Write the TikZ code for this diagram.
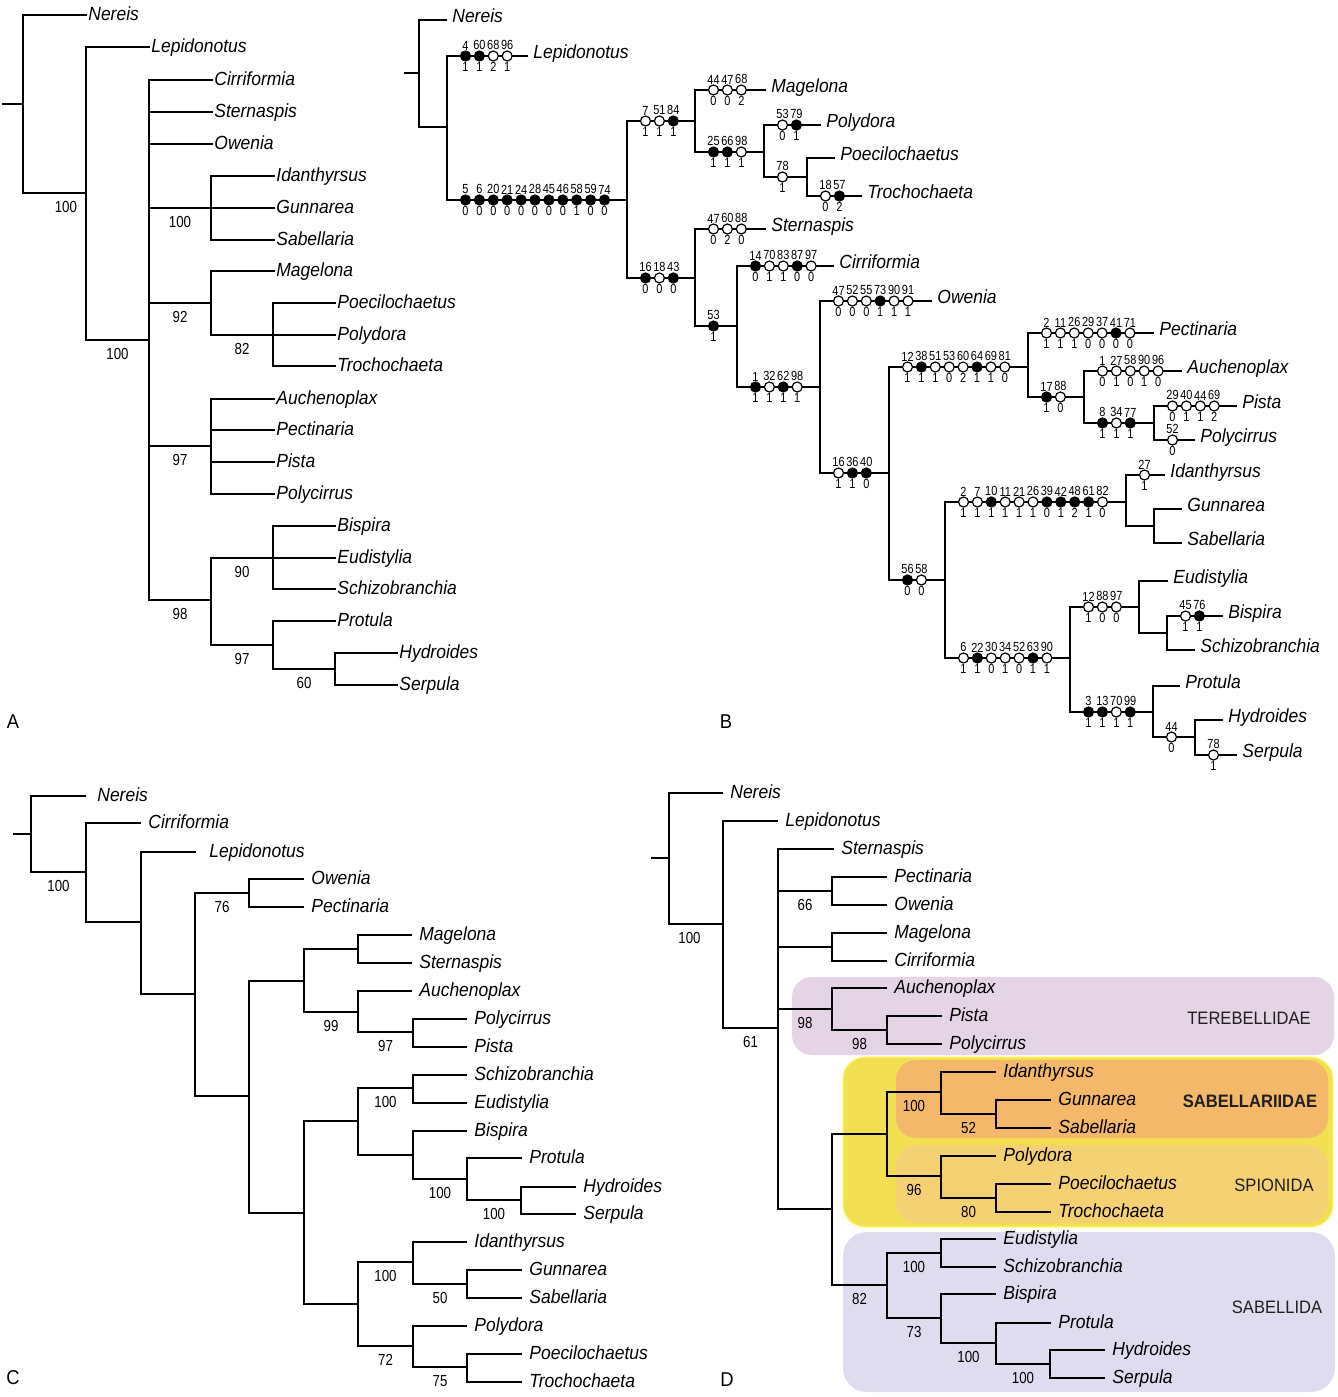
\documentclass[tikz,border=0pt]{standalone}
\usepackage{fontspec}
\setmainfont[FakeStretch=0.92]{Liberation Sans}
\newfontfamily\numfont[FakeStretch=0.83]{Liberation Sans}

\definecolor{terebel}{RGB}{229,211,230}
\definecolor{spiyel}{RGB}{242,223,82}
\definecolor{sabaor}{RGB}{243,184,106}
\definecolor{spiono}{RGB}{244,209,114}
\definecolor{sabida}{RGB}{222,220,238}

\tikzset{
  br/.style={line width=1.1pt},
  sp/.style={anchor=west, inner xsep=0.5pt, text height=5pt, text depth=0pt,
    font=\fontsize{9.5pt}{11pt}\selectfont\itshape},
  spb/.style={sp, inner xsep=2.5pt, text height=2pt},
  spc/.style={sp, inner xsep=3.5pt},
  bs/.style={pos=0.75, below=3.8pt, inner sep=0pt, font=\numfont\fontsize{8pt}{9pt}\selectfont},
  chs/.style={circle, draw, line width=0.6pt, inner sep=0pt, minimum size=5pt, label distance=1.5pt},
  chf/.style={chs, fill=black},
  cho/.style={chs, fill=white},
  chn/.style={inner sep=0pt, font=\numfont\fontsize{6.6pt}{7pt}\selectfont},
  cladelab/.style={text=black!88, font=\fontsize{9pt}{10pt}\selectfont},
  panel/.style={font=\fontsize{10pt}{12pt}\selectfont},
}

% character states along a branch: name, start, {fill/char/state,...}
\newcommand\chars[3]{%
  \foreach \fil/\hi/\lo [count=\i] in {#3}
    \path (#2) ++({18.5+13.9*(\i-1)},0)
      node[ch\fil, label={[chn]90:\hi}, label={[chn]-90:\lo}] (#1-\i) {};}

\begin{document}
\begin{tikzpicture}[x=0.5pt,y=-0.5pt]
\useasboundingbox (0,0) rectangle (1338,1397);

% A
\coordinate (aR) at (2,104);
\coordinate (a0) at (23,104);
\coordinate (a1) at (86,193);
\coordinate (a2) at (149,340);
\coordinate (a3) at (211,208);
\coordinate (a4) at (211,303);
\coordinate (a5) at (273,335);
\coordinate (a6) at (211,446);
\coordinate (a7) at (211,600);
\coordinate (a8) at (273,558);
\coordinate (a9) at (273,645);
\coordinate (a10) at (335,669);
\node[sp] (aNer) at (87,15) {Nereis};
\node[sp] (aLep) at (150,47) {Lepidonotus};
\node[sp] (aCir) at (213,80) {Cirriformia};
\node[sp] (aSte) at (213,112) {Sternaspis};
\node[sp] (aOwe) at (213,144) {Owenia};
\node[sp] (aIda) at (275,176) {Idanthyrsus};
\node[sp] (aGun) at (275,208) {Gunnarea};
\node[sp] (aSab) at (275,240) {Sabellaria};
\node[sp] (aMag) at (275,271) {Magelona};
\node[sp] (aPoe) at (336,303) {Poecilochaetus};
\node[sp] (aPol) at (336,335) {Polydora};
\node[sp] (aTro) at (336,366) {Trochochaeta};
\node[sp] (aAuc) at (275,399) {Auchenoplax};
\node[sp] (aPec) at (275,430) {Pectinaria};
\node[sp] (aPis) at (275,462) {Pista};
\node[sp] (aPcr) at (275,494) {Polycirrus};
\node[sp] (aBis) at (336,526) {Bispira};
\node[sp] (aEud) at (336,558) {Eudistylia};
\node[sp] (aSch) at (336,589) {Schizobranchia};
\node[sp] (aPro) at (336,621) {Protula};
\node[sp] (aHyd) at (398,653) {Hydroides};
\node[sp] (aSer) at (398,685) {Serpula};
\draw[br] (aR) -- (a0);
\draw[br] (a0) |- (aNer);
\draw[br] (a0) |- node[bs, pos=0.84] {100} (a1);
\draw[br] (a1) |- (aLep);
\draw[br] (a1) |- node[bs] {100} (a2);
\foreach \t in {aCir,aSte,aOwe} \draw[br] (a2) |- (\t);
\draw[br] (a2) |- node[bs] {100} (a3);
\draw[br] (a2) |- node[bs] {92} (a4);
\draw[br] (a2) |- node[bs] {97} (a6);
\draw[br] (a2) |- node[bs] {98} (a7);
\foreach \t in {aIda,aGun,aSab} \draw[br] (a3) |- (\t);
\draw[br] (a4) |- (aMag);
\draw[br] (a4) |- node[bs] {82} (a5);
\foreach \t in {aPoe,aPol,aTro} \draw[br] (a5) |- (\t);
\foreach \t in {aAuc,aPec,aPis,aPcr} \draw[br] (a6) |- (\t);
\draw[br] (a7) |- node[bs] {90} (a8);
\draw[br] (a7) |- node[bs] {97} (a9);
\foreach \t in {aBis,aEud,aSch} \draw[br] (a8) |- (\t);
\draw[br] (a9) |- (aPro);
\draw[br] (a9) |- node[bs] {60} (a10);
\foreach \t in {aHyd,aSer} \draw[br] (a10) |- (\t);
\node[panel] (labA) at (13,722) {A};

% B
\coordinate (bR) at (404,73);
\coordinate (b0) at (419,73);
\coordinate (b1) at (447,127);
\coordinate (b2) at (627,200);
\coordinate (b3) at (695,121);
\coordinate (b4) at (764,152);
\coordinate (b5) at (807,177);
\coordinate (b6) at (695,278);
\coordinate (b7) at (737,326);
\coordinate (b8) at (820,387);
\coordinate (b9) at (889,473);
\coordinate (b10) at (1028,367);
\coordinate (b11) at (1084,397);
\coordinate (b12) at (1154,423);
\coordinate (b13) at (945,580);
\coordinate (b14) at (1126,502);
\coordinate (b15) at (1154,526);
\coordinate (b16) at (1070,658);
\coordinate (b17) at (1139,607);
\coordinate (b18) at (1167,633);
\coordinate (b19) at (1153,712);
\coordinate (b20) at (1195,737);
\node[spb] (bNer) at (447,20) {Nereis};
\node[spb] (bLep) at (528,56) {Lepidonotus};
\node[spb] (bMag) at (766,90) {Magelona};
\node[spb] (bPol) at (821,125) {Polydora};
\node[spb] (bPoe) at (835,158) {Poecilochaetus};
\node[spb] (bTro) at (862,196) {Trochochaeta};
\node[spb] (bSte) at (766,229) {Sternaspis};
\node[spb] (bCir) at (834,266) {Cirriformia};
\node[spb] (bOwe) at (932,301) {Owenia};
\node[spb] (bPec) at (1154,333) {Pectinaria};
\node[spb] (bAuc) at (1182,371) {Auchenoplax};
\node[spb] (bPis) at (1237,406) {Pista};
\node[spb] (bPcr) at (1195,440) {Polycirrus};
\node[spb] (bIda) at (1165,475) {Idanthyrsus};
\node[spb] (bGun) at (1182,509) {Gunnarea};
\node[spb] (bSab) at (1182,543) {Sabellaria};
\node[spb] (bEud) at (1168,581) {Eudistylia};
\node[spb] (bBis) at (1223,616) {Bispira};
\node[spb] (bSch) at (1195,650) {Schizobranchia};
\node[spb] (bPro) at (1180,686) {Protula};
\node[spb] (bHyd) at (1223,720) {Hydroides};
\node[spb] (bSer) at (1237,755) {Serpula};
\draw[br] (bR) -- (b0);
\draw[br] (b0) |- (bNer);
\draw[br] (b0) |- (b1);
\draw[br] (b1) |- (bLep);
\draw[br] (b1) |- (b2);
\draw[br] (b2) |- (b3);
\draw[br] (b3) |- (bMag);
\draw[br] (b3) |- (b4);
\draw[br] (b4) |- (bPol);
\draw[br] (b4) |- (b5);
\foreach \t in {bPoe,bTro} \draw[br] (b5) |- (\t);
\draw[br] (b2) |- (b6);
\draw[br] (b6) |- (bSte);
\draw[br] (b6) |- (b7);
\draw[br] (b7) |- (bCir);
\draw[br] (b7) |- (b8);
\draw[br] (b8) |- (bOwe);
\draw[br] (b8) |- (b9);
\draw[br] (b9) |- (b10);
\draw[br] (b10) |- (bPec);
\draw[br] (b10) |- (b11);
\draw[br] (b11) |- (bAuc);
\draw[br] (b11) |- (b12);
\foreach \t in {bPis,bPcr} \draw[br] (b12) |- (\t);
\draw[br] (b9) |- (b13);
\draw[br] (b13) |- (b14);
\draw[br] (b14) |- (bIda);
\draw[br] (b14) |- (b15);
\foreach \t in {bGun,bSab} \draw[br] (b15) |- (\t);
\draw[br] (b13) |- (b16);
\draw[br] (b16) |- (b17);
\draw[br] (b17) |- (bEud);
\draw[br] (b17) |- (b18);
\foreach \t in {bBis,bSch} \draw[br] (b18) |- (\t);
\draw[br] (b16) |- (b19);
\draw[br] (b19) |- (bPro);
\draw[br] (b19) |- (b20);
\foreach \t in {bHyd,bSer} \draw[br] (b20) |- (\t);
\chars{sLep}{b1 |- bLep}{f/4/1,f/60/1,o/68/2,o/96/1}
\chars{s2}{b1 |- b2}{f/5/0,f/6/0,f/20/0,f/21/0,f/24/0,f/28/0,f/45/0,f/46/0,f/58/1,f/59/0,f/74/0}
\chars{s3}{b2 |- b3}{o/7/1,o/51/1,f/84/1}
\chars{sMag}{b3 |- bMag}{o/44/0,o/47/0,o/68/2}
\chars{s4}{b3 |- b4}{f/25/1,f/66/1,o/98/1}
\chars{sPol}{b4 |- bPol}{o/53/0,f/79/1}
\chars{s5}{b4 |- b5}{o/78/1}
\chars{sTro}{b5 |- bTro}{o/18/0,f/57/2}
\chars{s6}{b2 |- b6}{f/16/0,o/18/0,f/43/0}
\chars{sSte}{b6 |- bSte}{o/47/0,o/60/2,o/88/0}
\chars{s7}{b6 |- b7}{f/53/1}
\chars{sCir}{b7 |- bCir}{f/14/0,o/70/1,o/83/1,f/87/0,o/97/0}
\chars{s8}{b7 |- b8}{f/1/1,o/32/1,f/62/1,o/98/1}
\chars{sOwe}{b8 |- bOwe}{o/47/0,o/52/0,o/55/0,f/73/1,o/90/1,o/91/1}
\chars{s9}{b8 |- b9}{o/16/1,f/36/1,f/40/0}
\chars{s10}{b9 |- b10}{o/12/1,f/38/1,o/51/1,o/53/0,o/60/2,f/64/1,o/69/1,o/81/0}
\chars{sPec}{b10 |- bPec}{o/2/1,o/11/1,o/26/1,o/29/0,o/37/0,f/41/0,o/71/0}
\chars{s11}{b10 |- b11}{f/17/1,o/88/0}
\chars{sAuc}{b11 |- bAuc}{o/1/0,o/27/1,o/58/0,o/90/1,o/96/0}
\chars{s12}{b11 |- b12}{f/8/1,o/34/1,f/77/1}
\chars{sPis}{b12 |- bPis}{o/29/0,o/40/1,o/44/1,o/69/2}
\chars{sPcr}{b12 |- bPcr}{o/52/0}
\chars{s13}{b9 |- b13}{f/56/0,o/58/0}
\chars{s14}{b13 |- b14}{o/2/1,o/7/1,f/10/1,o/11/1,o/21/1,o/26/1,f/39/0,f/42/1,f/48/2,f/61/1,o/82/0}
\chars{sIda}{b14 |- bIda}{o/27/1}
\chars{s16}{b13 |- b16}{o/6/1,f/22/1,o/30/0,o/34/1,o/52/0,f/63/1,o/90/1}
\chars{s17}{b16 |- b17}{o/12/1,o/88/0,o/97/0}
\chars{sBis}{b18 |- bBis}{o/45/1,f/76/1}
\chars{s19}{b16 |- b19}{f/3/1,f/13/1,o/70/1,f/99/1}
\chars{s20}{b19 |- b20}{o/44/0}
\chars{sSer}{b20 |- bSer}{o/78/1}
\node[panel] (labB) at (726,722) {B};

% C
\coordinate (cR) at (13,834);
\coordinate (c0) at (31,834);
\coordinate (c1) at (86,872);
\coordinate (c2) at (141,922);
\coordinate (c3) at (195,994);
\coordinate (c4) at (249,893);
\coordinate (c5) at (249,1096);
\coordinate (c6) at (304,981);
\coordinate (c7) at (358,949);
\coordinate (c8) at (358,1012);
\coordinate (c9) at (413,1032);
\coordinate (c10) at (304,1213);
\coordinate (c11) at (358,1121);
\coordinate (c12) at (413,1088);
\coordinate (c13) at (413,1155);
\coordinate (c14) at (467,1179);
\coordinate (c15) at (521,1200);
\coordinate (c16) at (358,1304);
\coordinate (c17) at (413,1262);
\coordinate (c18) at (467,1284);
\coordinate (c19) at (413,1346);
\coordinate (c20) at (467,1367);
\node[spc, inner xsep=5.5pt] (cNer) at (86,796) {Nereis};
\node[spc] (cCir) at (141,823) {Cirriformia};
\node[spc, inner xsep=6.5pt] (cLep) at (196,852) {Lepidonotus};
\node[spc] (cOwe) at (304,879) {Owenia};
\node[spc] (cPec) at (304,907) {Pectinaria};
\node[spc] (cMag) at (412,935) {Magelona};
\node[spc] (cSte) at (412,963) {Sternaspis};
\node[spc] (cAuc) at (412,991) {Auchenoplax};
\node[spc] (cPcr) at (467,1019) {Polycirrus};
\node[spc] (cPis) at (467,1047) {Pista};
\node[spc] (cSch) at (467,1075) {Schizobranchia};
\node[spc] (cEud) at (467,1103) {Eudistylia};
\node[spc] (cBis) at (467,1131) {Bispira};
\node[spc] (cPro) at (522,1158) {Protula};
\node[spc] (cHyd) at (576,1187) {Hydroides};
\node[spc] (cSer) at (576,1214) {Serpula};
\node[spc] (cIda) at (467,1242) {Idanthyrsus};
\node[spc] (cGun) at (522,1270) {Gunnarea};
\node[spc] (cSab) at (522,1298) {Sabellaria};
\node[spc] (cPol) at (467,1326) {Polydora};
\node[spc] (cPoe) at (522,1354) {Poecilochaetus};
\node[spc] (cTro) at (522,1382) {Trochochaeta};
\draw[br] (cR) -- (c0);
\draw[br] (c0) |- (cNer);
\draw[br] (c0) |- node[bs] {100} (c1);
\draw[br] (c1) |- (cCir);
\draw[br] (c1) |- (c2);
\draw[br] (c2) |- (cLep);
\draw[br] (c2) |- (c3);
\draw[br] (c3) |- node[bs] {76} (c4);
\foreach \t in {cOwe,cPec} \draw[br] (c4) |- (\t);
\draw[br] (c3) |- (c5);
\draw[br] (c5) |- (c6);
\draw[br] (c6) |- (c7);
\foreach \t in {cMag,cSte} \draw[br] (c7) |- (\t);
\draw[br] (c6) |- node[bs] {99} (c8);
\draw[br] (c8) |- (cAuc);
\draw[br] (c8) |- node[bs] {97} (c9);
\foreach \t in {cPcr,cPis} \draw[br] (c9) |- (\t);
\draw[br] (c5) |- (c10);
\draw[br] (c10) |- (c11);
\draw[br] (c11) |- node[bs] {100} (c12);
\foreach \t in {cSch,cEud} \draw[br] (c12) |- (\t);
\draw[br] (c11) |- (c13);
\draw[br] (c13) |- (cBis);
\draw[br] (c13) |- node[bs] {100} (c14);
\draw[br] (c14) |- (cPro);
\draw[br] (c14) |- node[bs] {100} (c15);
\foreach \t in {cHyd,cSer} \draw[br] (c15) |- (\t);
\draw[br] (c10) |- (c16);
\draw[br] (c16) |- node[bs] {100} (c17);
\draw[br] (c17) |- (cIda);
\draw[br] (c17) |- node[bs] {50} (c18);
\foreach \t in {cGun,cSab} \draw[br] (c18) |- (\t);
\draw[br] (c16) |- node[bs] {72} (c19);
\draw[br] (c19) |- (cPol);
\draw[br] (c19) |- node[bs] {75} (c20);
\foreach \t in {cPoe,cTro} \draw[br] (c20) |- (\t);
\node[panel] (labC) at (13,1378) {C};

% D
\fill[terebel, rounded corners=10pt] (792,977) rectangle (1334,1055);
\filldraw[fill=spiyel, draw=yellow!55, line width=0.6pt, rounded corners=11pt] (843,1057) rectangle (1333,1227);
\fill[sabaor, rounded corners=10pt] (896,1060) rectangle (1328,1138);
\fill[spiono, rounded corners=10pt] (896,1145) rectangle (1328,1223);
\fill[sabida, rounded corners=12pt] (843,1232) rectangle (1335,1392);
\node[cladelab] (tTer) at (1249,1018) {TEREBELLIDAE};
\node[cladelab, font=\fontsize{9pt}{10pt}\selectfont\bfseries] (tSbr) at (1250,1101) {SABELLARIIDAE};
\node[cladelab] (tSpi) at (1274,1185) {SPIONIDA};
\node[cladelab] (tSab) at (1277,1307) {SABELLIDA};
\coordinate (dR) at (651,858);
\coordinate (d0) at (669,858);
\coordinate (d1) at (723,924);
\coordinate (d2) at (778,1028);
\coordinate (d3) at (832,891);
\coordinate (d4) at (832,947);
\coordinate (d5) at (832,1009);
\coordinate (d6) at (887,1030);
\coordinate (d7) at (832,1209);
\coordinate (d8) at (887,1134);
\coordinate (d9) at (941,1092);
\coordinate (d10) at (996,1114);
\coordinate (d11) at (941,1176);
\coordinate (d12) at (996,1198);
\coordinate (d13) at (887,1285);
\coordinate (d14) at (941,1253);
\coordinate (d15) at (941,1318);
\coordinate (d16) at (996,1343);
\coordinate (d17) at (1050,1364);
\node[spc] (dNer) at (723,793) {Nereis};
\node[spc] (dLep) at (778,821) {Lepidonotus};
\node[spc] (dSte) at (834,849) {Sternaspis};
\node[spc] (dPec) at (887,877) {Pectinaria};
\node[spc] (dOwe) at (887,905) {Owenia};
\node[spc] (dMag) at (887,933) {Magelona};
\node[spc] (dCir) at (887,961) {Cirriformia};
\node[spc] (dAuc) at (887,988) {Auchenoplax};
\node[spc] (dPis) at (942,1016) {Pista};
\node[spc] (dPcr) at (942,1044) {Polycirrus};
\node[spc] (dIda) at (996,1072) {Idanthyrsus};
\node[spc] (dGun) at (1051,1100) {Gunnarea};
\node[spc] (dSab) at (1051,1128) {Sabellaria};
\node[spc] (dPol) at (996,1156) {Polydora};
\node[spc] (dPoe) at (1051,1184) {Poecilochaetus};
\node[spc] (dTro) at (1051,1212) {Trochochaeta};
\node[spc] (dEud) at (996,1239) {Eudistylia};
\node[spc] (dSch) at (996,1267) {Schizobranchia};
\node[spc] (dBis) at (996,1294) {Bispira};
\node[spc] (dPro) at (1051,1323) {Protula};
\node[spc] (dHyd) at (1105,1350) {Hydroides};
\node[spc] (dSer) at (1105,1378) {Serpula};
\draw[br] (dR) -- (d0);
\draw[br] (d0) |- (dNer);
\draw[br] (d0) |- node[bs, pos=0.69] {100} (d1);
\draw[br] (d1) |- (dLep);
\draw[br] (d1) |- node[bs] {61} (d2);
\draw[br] (d2) |- (dSte);
\draw[br] (d2) |- node[bs] {66} (d3);
\foreach \t in {dPec,dOwe} \draw[br] (d3) |- (\t);
\draw[br] (d2) |- (d4);
\foreach \t in {dMag,dCir} \draw[br] (d4) |- (\t);
\draw[br] (d2) |- node[bs] {98} (d5);
\draw[br] (d5) |- (dAuc);
\draw[br] (d5) |- node[bs] {98} (d6);
\foreach \t in {dPis,dPcr} \draw[br] (d6) |- (\t);
\draw[br] (d2) |- (d7);
\draw[br] (d7) |- (d8);
\draw[br] (d8) |- node[bs] {100} (d9);
\draw[br] (d9) |- (dIda);
\draw[br] (d9) |- node[bs] {52} (d10);
\foreach \t in {dGun,dSab} \draw[br] (d10) |- (\t);
\draw[br] (d8) |- node[bs] {96} (d11);
\draw[br] (d11) |- (dPol);
\draw[br] (d11) |- node[bs] {80} (d12);
\foreach \t in {dPoe,dTro} \draw[br] (d12) |- (\t);
\draw[br] (d7) |- node[bs] {82} (d13);
\draw[br] (d13) |- node[bs] {100} (d14);
\foreach \t in {dEud,dSch} \draw[br] (d14) |- (\t);
\draw[br] (d13) |- node[bs] {73} (d15);
\draw[br] (d15) |- (dBis);
\draw[br] (d15) |- node[bs] {100} (d16);
\draw[br] (d16) |- (dPro);
\draw[br] (d16) |- node[bs] {100} (d17);
\foreach \t in {dHyd,dSer} \draw[br] (d17) |- (\t);
\node[panel] (labD) at (727,1380) {D};
\end{tikzpicture}
\end{document}
